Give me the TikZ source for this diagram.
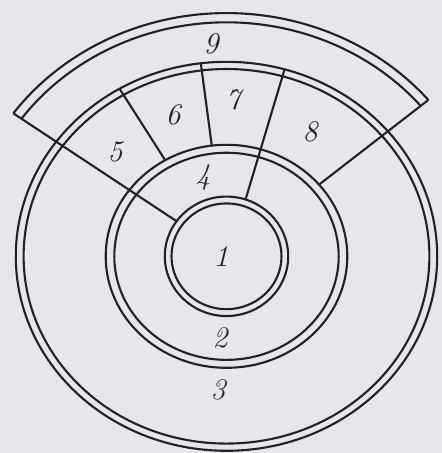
\documentclass[tikz,border=0pt]{standalone}
\usepackage{xcolor}
\usepackage{tikz}
\definecolor{paper}{RGB}{231,230,235}
\definecolor{ink}{RGB}{35,33,40}

\begin{document}
\begin{tikzpicture}[
  x=0.02cm, y=0.02cm,
  wall/.style={draw=ink, line width=1.2pt},
  zone/.style={font=\fontsize{17}{20}\selectfont\itshape, text=ink, inner sep=0pt}
]
\path[use as bounding box, fill=paper] (-226.5,-196.7) rectangle (215.5,256.3);
\begin{scope}[yscale=0.923]
% outer band (9)
\draw[wall] (40:263.5) arc[start angle=40, end angle=144, radius=263.5];
\draw[wall] (40:253.5) arc[start angle=40, end angle=144, radius=253.5];
% rings
\draw[wall] (0,0) circle[radius=210.7];
\draw[wall] (0,0) circle[radius=202.9];
\draw[wall] (0,0) circle[radius=120.8];
\draw[wall] (0,0) circle[radius=112.2];
\draw[wall] (0,0) ellipse[x radius=61.7, y radius=64.7];
\draw[wall] (0,0) ellipse[x radius=55, y radius=57.3];
% radial walls
\draw[wall] (144:263.5) -- (144:61.7 and 64.7);
\draw[wall] (40:263.5) -- (40:120.8);
\draw[wall] (74:210.7) -- (72:61.7 and 64.7);
\draw[wall] (120.5:210.7) -- (120.5:120.8);
\draw[wall] (97:210.7) -- (97:120.8);
\end{scope}
\node[zone] (r1) at (-5.5,-0.7) {1};
\node[zone] (r2) at (-6.5,-81.7) {2};
\node[zone] (r3) at (-8.5,-133.7) {3};
\node[zone] (r4) at (-23.5,79.3) {4};
\node[zone] (r5) at (-111.5,104.3) {5};
\node[zone] (r6) at (-53.5,141.3) {6};
\node[zone] (r7) at (6.5,156.3) {7};
\node[zone] (r8) at (83.5,124.3) {8};
\node[zone] (r9) at (-15.5,212.3) {9};
\end{tikzpicture}
\end{document}
